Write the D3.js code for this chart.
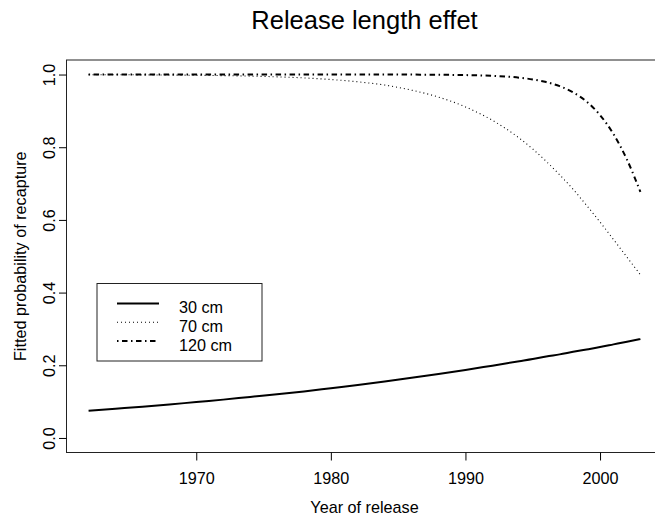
<!DOCTYPE html>
<html>
<head>
<meta charset="utf-8">
<script src="https://cdn.jsdelivr.net/npm/d3@7"></script>
<style>
body { margin: 0; background: #fff; }
text { font-family: "Liberation Sans", Arial, sans-serif; fill: #000; }
</style>
</head>
<body>
<div id="chart"></div>
<script>
var years = [1962, 1964, 1966, 1968, 1970, 1972, 1974, 1976, 1978, 1980, 1982, 1984, 1986,
             1988, 1990, 1992, 1994, 1995, 1996, 1997, 1998, 1999, 2000, 2001, 2002, 2003];
var len30 = [0.075, 0.0805, 0.086, 0.092, 0.099, 0.1055, 0.113, 0.120, 0.128, 0.137, 0.146, 0.1555, 0.1655,
             0.176, 0.187, 0.199, 0.211, 0.217, 0.224, 0.230, 0.237, 0.2435, 0.250, 0.2575, 0.265, 0.272];
var len70 = [0.9996, 0.9994, 0.9991, 0.9986, 0.998, 0.997, 0.9957, 0.9937, 0.9907, 0.9863, 0.980, 0.971, 0.957,
             0.938, 0.911, 0.874, 0.825, 0.795, 0.761, 0.724, 0.684, 0.640, 0.594, 0.546, 0.4975, 0.449];
var len120 = [1.0, 1.0, 1.0, 1.0, 1.0, 1.0, 1.0, 1.0, 1.0, 1.0, 0.9999, 0.9999, 0.9998,
              0.9994, 0.9985, 0.9964, 0.9914, 0.9866, 0.9793, 0.968, 0.951, 0.9256, 0.8884, 0.836, 0.766, 0.677];
var xTicks = [1970, 1980, 1990, 2000];
var yTicks = [0, 0.2, 0.4, 0.6, 0.8, 1.0];
var legendLabels = ["30 cm", "70 cm", "120 cm"];

var W = 655, H = 521;
var box_l = 66.5, box_r = 662.5, box_t = 60, box_b = 452.5;
var fs = 16.2;

var svg = d3.select("#chart").append("svg")
            .attr("width", W)
            .attr("height", H);

// R style 4% padding round the data range
var xr = d3.extent(years), xpad = (xr[1] - xr[0]) * 0.04;
var x = d3.scaleLinear().domain([xr[0] - xpad, xr[1] + xpad]).range([box_l, box_r]);
var y = d3.scaleLinear().domain([-0.04, 1.04]).range([box_b, box_t]);

svg.append("rect")
   .attr("x", box_l)
   .attr("y", box_t)
   .attr("width", box_r - box_l)
   .attr("height", box_b - box_t)
   .attr("fill", "none")
   .attr("stroke", "#222")
   .attr("stroke-width", 1);

var xAxis = svg.append("g")
               .attr("transform", "translate(0," + box_b + ")")
               .call(d3.axisBottom(x).tickValues(xTicks).tickFormat(d3.format("d")).tickSize(8).tickSizeOuter(0));
xAxis.select(".domain").remove();
xAxis.selectAll("line").attr("stroke", "#000");
xAxis.selectAll("text")
     .attr("y", 31.8)
     .attr("dy", 0)
     .attr("font-size", fs)
     .attr("font-family", "Liberation Sans, Arial, sans-serif");

var yAxis = svg.append("g")
               .attr("transform", "translate(" + box_l + ",0)")
               .call(d3.axisLeft(y).tickValues(yTicks).tickFormat(d3.format(".1f")).tickSize(7.5).tickSizeOuter(0));
yAxis.select(".domain").remove();
yAxis.selectAll("line").attr("stroke", "#000");
yAxis.selectAll("text")
     .attr("transform", "rotate(-90)")
     .attr("x", 0)
     .attr("y", -11.5)
     .attr("dy", 0)
     .attr("text-anchor", "middle")
     .attr("font-size", fs)
     .attr("font-family", "Liberation Sans, Arial, sans-serif");

var series = [
    {values: len30, width: 2, dash: null},
    {values: len70, width: 1.1, dash: "1,3"},
    {values: len120, width: 2, dash: "1.5,3.5,5.5,3.5"}
];

var line = d3.line()
             .x(function(d){ return x(d[0]); })
             .y(function(d){ return y(d[1]); })
             .curve(d3.curveMonotoneX);

for (i = 0; i < series.length; i++) {
    svg.append("path")
       .datum(years.map(function(yr, j){ return [yr, series[i].values[j]]; }))
       .attr("d", line)
       .attr("fill", "none")
       .attr("stroke", "#000")
       .attr("stroke-width", series[i].width)
       .attr("stroke-dasharray", series[i].dash);
}

// legend
var lg_x = 97, lg_y = 283.5, lg_step = 18.8;
svg.append("rect")
   .attr("x", lg_x)
   .attr("y", lg_y)
   .attr("width", 165)
   .attr("height", 77.5)
   .attr("fill", "none")
   .attr("stroke", "#222")
   .attr("stroke-width", 1);

for (i = 0; i < legendLabels.length; i++) {
    var ly = lg_y + 20 + i * lg_step;
    svg.append("line")
       .attr("x1", lg_x + 20)
       .attr("x2", lg_x + 62)
       .attr("y1", ly)
       .attr("y2", ly)
       .attr("stroke", "#000")
       .attr("stroke-width", series[i].width)
       .attr("stroke-dasharray", series[i].dash);
    svg.append("text")
       .text(legendLabels[i])
       .attr("x", lg_x + 82)
       .attr("y", ly + 9.5)
       .attr("font-size", fs);
}

svg.append("text")
   .text("Release length effet")
   .attr("x", (box_l + box_r) / 2)
   .attr("y", 28.5)
   .attr("text-anchor", "middle")
   .attr("font-size", 25.5);

svg.append("text")
   .text("Year of release")
   .attr("x", (box_l + box_r) / 2)
   .attr("y", 512.5)
   .attr("text-anchor", "middle")
   .attr("font-size", fs);

svg.append("text")
   .text("Fitted probability of recapture")
   .attr("transform", "translate(26," + (box_t + box_b) / 2 + ") rotate(-90)")
   .attr("text-anchor", "middle")
   .attr("font-size", fs);
</script>
</body>
</html>
